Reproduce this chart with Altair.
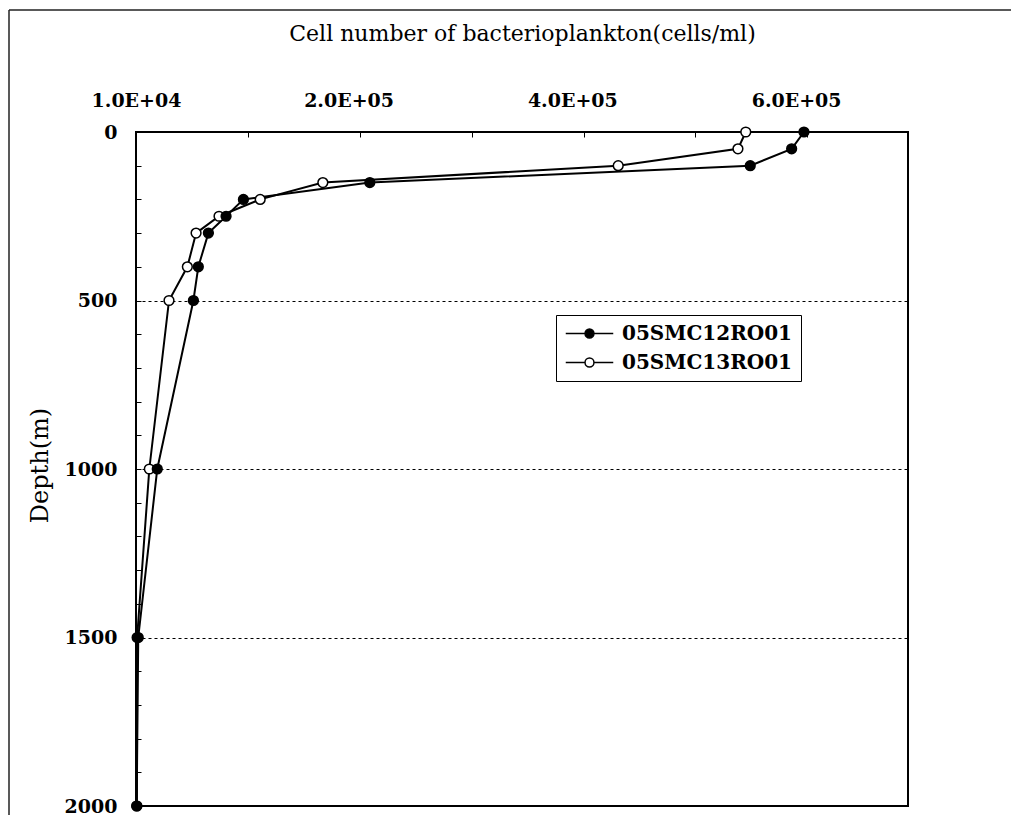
import altair as alt
import pandas as pd

# ---- data ----
depths = [0, 50, 100, 150, 200, 250, 300, 400, 500, 1000, 1500, 2000]
smc12 = [607000, 596000, 559000, 219000, 106000, 90500, 74700, 65700, 61300, 29000, 12000, 10600]
smc13 = [555000, 548000, 441000, 177000, 121000, 84200, 63700, 55900, 39500, 21900, 11000, 10800]
series_names = ["05SMC12RO01", "05SMC13RO01"]

x_label_values = [10000, 200000, 400000, 600000]
x_label_texts = ["1.0E+04", "2.0E+05", "4.0E+05", "6.0E+05"]
x_minor_ticks = [10000, 110000, 210000, 310000, 410000, 510000, 610000]
y_label_values = [0, 500, 1000, 1500, 2000]
y_minor_ticks = [0, 100, 200, 300, 400, 500, 600, 700, 800, 900, 1000,
                 1100, 1200, 1300, 1400, 1500, 1600, 1700, 1800, 1900, 2000]

# open series first so the filled markers are drawn on top
rows = []
for name, vals in [(series_names[1], smc13), (series_names[0], smc12)]:
    for d, v in zip(depths, vals):
        rows.append({"series": name, "depth": d, "cells": v})
df = pd.DataFrame(rows)

FONT = "DejaVu Serif"
W, H = 772, 674

label_expr = " : ".join(
    f"datum.value == {v} ? '{t}'" for v, t in zip(x_label_values, x_label_texts)
) + " : ''"

xscale = alt.Scale(domain=[10000, 700000], zero=False, nice=False)
yscale = alt.Scale(domain=[0, 2000], reverse=True, nice=False, zero=False)

base = alt.Chart(df)

lines = base.mark_line(color="black", strokeWidth=2).encode(
    x=alt.X("cells:Q", scale=xscale,
            axis=alt.Axis(orient="top", values=x_label_values, labelExpr=label_expr,
                          ticks=False, domain=False, grid=False,
                          labelFont=FONT, labelFontSize=19, labelFontWeight="bold",
                          labelColor="black",
                          labelBaseline="alphabetic", labelPadding=26, labelFlush=False,
                          labelOverlap=False,
                          title="Cell number of bacterioplankton(cells/ml)",
                          titleFont=FONT, titleFontSize=22, titleFontWeight="normal",
                          titleColor="black", titleY=-99, titleBaseline="middle")),
    y=alt.Y("depth:Q", scale=yscale,
            axis=alt.Axis(orient="left", values=y_label_values, format="d",
                          ticks=False, domain=False,
                          grid=True, gridColor="black", gridDash=[3, 3], gridWidth=1,
                          labelFont=FONT, labelFontSize=19, labelFontWeight="bold",
                          labelColor="black", labelPadding=19,
                          title="Depth(m)", titleFont=FONT, titleFontSize=24,
                          titleFontWeight="normal", titleColor="black",
                          titleX=-96, titleY=H / 2 - 4, titleAngle=-90,
                          titleBaseline="middle", titleAlign="center")),
    detail="series:N",
    order=alt.Order("depth:Q"),
)

# legend symbol: a line with a circle in the middle
PATH = ("M-2.5,0L-0.47,0M0.47,0L2.5,0"
        "M0.47,0A0.47,0.47,0,1,1,-0.47,0A0.47,0.47,0,1,1,0.47,0Z")

points = base.mark_point(filled=False, size=95, stroke="black", strokeWidth=1.5,
                         opacity=1).encode(
    x=alt.X("cells:Q", scale=xscale,
            axis=alt.Axis(orient="bottom", offset=-H, values=x_minor_ticks, labels=False,
                          ticks=True, tickSize=5, tickColor="black", tickWidth=1,
                          domain=False, grid=False, title=None)),
    y=alt.Y("depth:Q", scale=yscale,
            axis=alt.Axis(orient="right", offset=-W, values=y_minor_ticks, labels=False,
                          ticks=True, tickSize=5, tickColor="black", tickWidth=1,
                          domain=False, grid=False, title=None)),
    fill=alt.Fill("series:N",
                  scale=alt.Scale(domain=series_names, range=["black", "white"]),
                  legend=alt.Legend(title=None, orient="none", legendX=420, legendY=183,
                                    direction="vertical", symbolType=PATH, symbolSize=361,
                                    symbolOffset=15,
                                    symbolStrokeColor="black", symbolStrokeWidth=1.5,
                                    symbolOpacity=1,
                                    labelFont=FONT, labelFontSize=20, labelFontWeight="bold",
                                    labelColor="black",
                                    labelOffset=22, strokeColor="black", fillColor="white",
                                    padding=8, rowPadding=8, labelLimit=400)),
)

frame_df = pd.DataFrame({"k": [0]})
frame_left = alt.Chart(frame_df).mark_rule(color="#222", strokeWidth=1.5).encode(
    x=alt.value(-127), y=alt.value(-122), y2=alt.value(H + 20))
frame_top = alt.Chart(frame_df).mark_rule(color="#222", strokeWidth=1.5).encode(
    x=alt.value(-127), x2=alt.value(885), y=alt.value(-122))

chart = alt.layer(lines, points, frame_left, frame_top).resolve_axis(
    x="independent", y="independent"
).properties(
    width=W, height=H,
    background="white",
    autosize=alt.AutoSizeParams(type="none"),
    padding={"left": 128, "top": 124, "right": 103, "bottom": 9},
).configure_view(stroke="black", strokeWidth=2)

chart.save("out.html", embed_options={"renderer": "svg", "actions": False})
